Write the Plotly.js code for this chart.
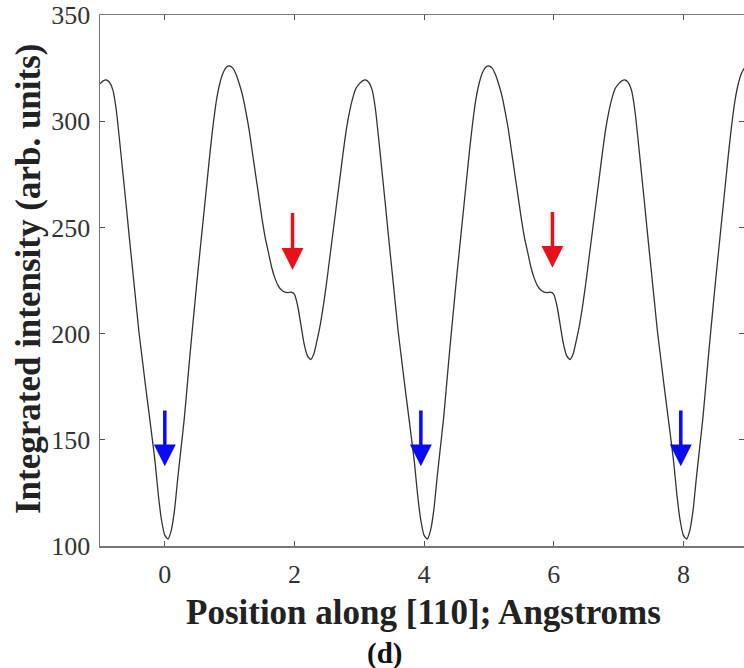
<!DOCTYPE html>
<html><head><meta charset="utf-8">
<script src="https://cdn.plot.ly/plotly-3.0.1.min.js"></script>
<style>html,body{margin:0;padding:0;background:#fff}#chart{width:744px;height:668px}</style>
</head><body><div id="chart"></div><script>
// Position along [110] (Angstroms)
const position = [
-1.00,-0.95,-0.90,-0.85,-0.80,-0.75,-0.70,-0.65,-0.60,-0.55,-0.50,-0.45,-0.40,-0.35,-0.30,-0.25,-0.20,-0.15,-0.10,-0.05,
0.00,0.05,0.10,0.15,0.20,0.25,0.30,0.35,0.40,0.45,0.50,0.55,0.60,0.65,0.70,0.75,0.80,0.85,0.90,0.95,
1.00,1.05,1.10,1.15,1.20,1.25,1.30,1.35,1.40,1.45,1.50,1.55,1.60,1.65,1.70,1.75,1.80,1.85,1.90,1.95,
2.00,2.05,2.10,2.15,2.20,2.25,2.30,2.35,2.40,2.45,2.50,2.55,2.60,2.65,2.70,2.75,2.80,2.85,2.90,2.95,
3.00,3.05,3.10,3.15,3.20,3.25,3.30,3.35,3.40,3.45,3.50,3.55,3.60,3.65,3.70,3.75,3.80,3.85,3.90,3.95,
4.00,4.05,4.10,4.15,4.20,4.25,4.30,4.35,4.40,4.45,4.50,4.55,4.60,4.65,4.70,4.75,4.80,4.85,4.90,4.95,
5.00,5.05,5.10,5.15,5.20,5.25,5.30,5.35,5.40,5.45,5.50,5.55,5.60,5.65,5.70,5.75,5.80,5.85,5.90,5.95,
6.00,6.05,6.10,6.15,6.20,6.25,6.30,6.35,6.40,6.45,6.50,6.55,6.60,6.65,6.70,6.75,6.80,6.85,6.90,6.95,
7.00,7.05,7.10,7.15,7.20,7.25,7.30,7.35,7.40,7.45,7.50,7.55,7.60,7.65,7.70,7.75,7.80,7.85,7.90,7.95,
8.00,8.05,8.10,8.15,8.20,8.25,8.30,8.35,8.40,8.45,8.50,8.55,8.60,8.65,8.70,8.75,8.80,8.85,8.90,8.95
];
// Integrated intensity (arb. units)
const intensity = [
317.6,319.0,319.4,318.2,314.5,305.5,291.5,276.5,261.5,246.0,231.0,216.0,201.0,188.5,176.0,164.0,152.0,139.5,124.0,112.0,
105.0,103.3,107.5,117.0,132.0,146.0,160.0,177.0,194.0,210.0,226.0,241.0,256.0,271.0,286.0,299.5,310.5,318.0,322.8,325.4,
326.0,325.0,322.0,317.5,312.0,304.5,296.0,285.5,275.0,264.5,254.0,245.0,238.0,231.0,226.0,222.5,220.5,219.5,219.3,219.5,
218.5,213.0,204.0,195.0,189.5,187.8,190.5,197.0,204.5,214.0,225.0,237.0,249.0,261.0,273.0,285.0,296.0,304.5,311.0,315.5,
317.6,319.0,319.4,318.2,314.5,305.5,291.5,276.5,261.5,246.0,231.0,216.0,201.0,188.5,176.0,164.0,152.0,139.5,124.0,112.0,
105.0,103.3,107.5,117.0,132.0,146.0,160.0,177.0,194.0,210.0,226.0,241.0,256.0,271.0,286.0,299.5,310.5,318.0,322.8,325.4,
326.0,325.0,322.0,317.5,312.0,304.5,296.0,285.5,275.0,264.5,254.0,245.0,238.0,231.0,226.0,222.5,220.5,219.5,219.3,219.5,
218.5,213.0,204.0,195.0,189.5,187.8,190.5,197.0,204.5,214.0,225.0,237.0,249.0,261.0,273.0,285.0,296.0,304.5,311.0,315.5,
317.6,319.0,319.4,318.2,314.5,305.5,291.5,276.5,261.5,246.0,231.0,216.0,201.0,188.5,176.0,164.0,152.0,139.5,124.0,112.0,
105.0,103.3,107.5,117.0,132.0,146.0,160.0,177.0,194.0,210.0,226.0,241.0,256.0,271.0,286.0,299.5,310.5,318.0,322.8,325.4
];
// Arrows marking features: x position, tail value, tip value, colour group
const arrowX    = [0.00, 3.95, 7.96, 1.97, 5.98];
const arrowTail = [164.5, 164.5, 164.5, 257.5, 258.0];
const arrowTip  = [137.5, 137.5, 137.5, 230.0, 231.0];
const arrowKind = ['blue','blue','blue','red','red'];
const xTicks = [0, 2, 4, 6, 8];
const yTicks = [100, 150, 200, 250, 300, 350];
const xTitle = 'Position along [110]; Angstroms';
const yTitle = 'Integrated intensity (arb. units)';
const panelLabel = '(d)';

const kindColor = {blue: '#0a0af5', red: '#e5121b'};
const serif = 'Liberation Serif, Times New Roman, serif';

const annotations = arrowX.map((x, i) => ({
  x: x, y: arrowTip[i], ax: x, ay: arrowTail[i],
  xref: 'x', yref: 'y', axref: 'x', ayref: 'y',
  showarrow: true, arrowhead: 2, arrowsize: 1.25, arrowwidth: 3.5,
  arrowcolor: kindColor[arrowKind[i]], text: ''
}));
annotations.push({
  text: '<b>' + xTitle + '</b>', xref: 'paper', yref: 'paper', x: 0.503, y: -0.1243,
  xanchor: 'center', yanchor: 'middle', showarrow: false,
  font: {family: serif, size: 35, color: '#222'}
});
annotations.push({
  text: '<b>' + yTitle + '</b>', xref: 'paper', yref: 'paper', x: -0.11, y: 0.503,
  xanchor: 'center', yanchor: 'middle', textangle: -90, showarrow: false,
  font: {family: serif, size: 35, color: '#222'}
});
annotations.push({
  text: '<b>' + panelLabel + '</b>', xref: 'paper', yref: 'paper', x: 0.4425, y: -0.203,
  xanchor: 'center', yanchor: 'middle', showarrow: false,
  font: {family: serif, size: 29, color: '#111'}
});

const trace = {
  x: position, y: intensity, type: 'scatter', mode: 'lines',
  line: {color: '#333333', width: 1.3, shape: 'spline', smoothing: 0.5},
  hoverinfo: 'skip'
};

const axisCommon = {
  showline: true, linecolor: '#777', linewidth: 1.5, mirror: 'ticks',
  ticks: 'inside', ticklen: 5, tickwidth: 1, tickcolor: '#555',
  showgrid: false, zeroline: false,
  tickfont: {family: serif, size: 26, color: '#333'}
};

const layout = {
  width: 744, height: 668,
  margin: {l: 100, r: 0, t: 15, b: 122},
  paper_bgcolor: '#fff', plot_bgcolor: '#fff',
  showlegend: false,
  xaxis: Object.assign({}, axisCommon, {
    range: [-1, 8.935], tickvals: xTicks, ticktext: xTicks.map(String),
    ticklabelstandoff: 4
  }),
  yaxis: Object.assign({}, axisCommon, {
    range: [100, 350], tickvals: yTicks, ticktext: yTicks.map(String),
    ticklabelstandoff: 3
  }),
  annotations: annotations
};

Plotly.newPlot('chart', [trace], layout, {staticPlot: true, displayModeBar: false});
</script></body></html>
